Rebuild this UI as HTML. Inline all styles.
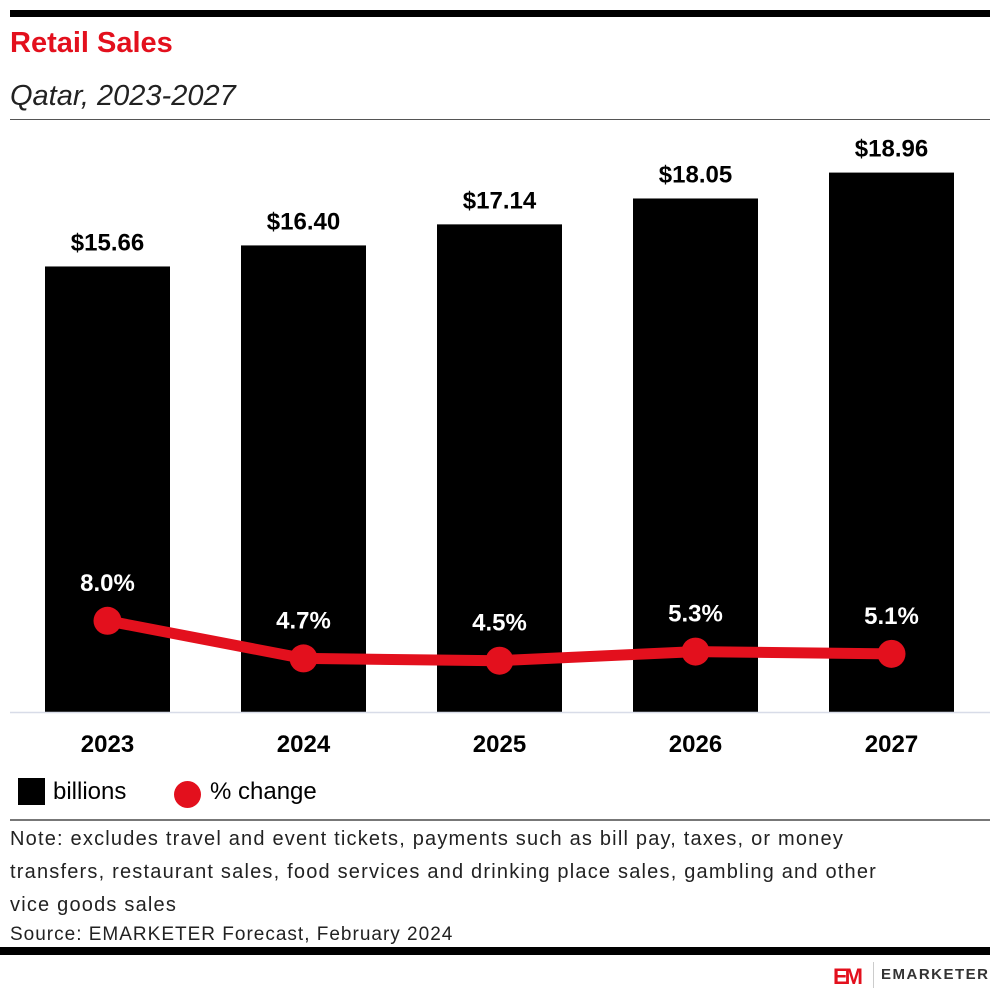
<!DOCTYPE html>
<html><head><meta charset="utf-8"><style>
body{margin:0;background:#fff;font-family:"Liberation Sans",sans-serif;}
#wrap{position:relative;width:1000px;height:997px;overflow:hidden;}
.t{position:absolute;white-space:nowrap;}
</style></head><body>
<div id="wrap">
<div style="position:absolute;left:10px;top:10px;width:980px;height:7px;background:#000"></div>
<div class="t" style="left:10px;top:27px;font-size:29px;font-weight:bold;color:#e3101d">Retail Sales</div>
<div class="t" style="left:10px;top:80px;font-size:29px;font-style:italic;color:#222">Qatar, 2023-2027</div>
<div style="position:absolute;left:10px;top:119px;width:980px;height:1px;background:#555"></div>
<svg id="chart" width="1000" height="997" style="position:absolute;left:0;top:0"></svg>
<div style="position:absolute;left:18px;top:778px;width:27px;height:27px;background:#000"></div>
<div class="t" style="left:53px;top:778px;font-size:24px;color:#000">billions</div>
<div style="position:absolute;left:174px;top:781px;width:27px;height:27px;border-radius:50%;background:#e3101d"></div>
<div class="t" style="left:210px;top:778px;font-size:24px;color:#000">% change</div>
<div style="position:absolute;left:10px;top:819px;width:980px;height:2px;background:#777"></div>
<div class="t" style="left:10px;top:823px;font-size:20px;line-height:33px;letter-spacing:1.2px;color:#222">Note: excludes travel and event tickets, payments such as bill pay, taxes, or money<br>transfers, restaurant sales, food services and drinking place sales, gambling and other<br>vice goods sales</div>
<div class="t" style="left:10px;top:924px;font-size:19px;letter-spacing:1px;color:#222">Source: EMARKETER Forecast, February 2024</div>
<div style="position:absolute;left:0;top:947px;width:990px;height:8px;background:#000"></div>
<div class="t" style="left:833px;top:964px;font-size:22px;font-weight:bold;color:#e3101d;letter-spacing:-3px">EM</div>
<div style="position:absolute;left:873px;top:962px;width:1px;height:26px;background:#ccc"></div>
<div class="t" style="left:881px;top:966px;font-size:15px;font-weight:bold;color:#333;letter-spacing:1.5px">EMARKETER</div>
</div>
<script>
const years=["2023","2024","2025","2026","2027"];
const sales=[15.66,16.40,17.14,18.05,18.96];
const salesLabels=["$15.66","$16.40","$17.14","$18.05","$18.96"];
const change=[8.0,4.7,4.5,5.3,5.1];
const changeLabels=["8.0%","4.7%","4.5%","5.3%","5.1%"];
const NS="http://www.w3.org/2000/svg";
const svg=document.getElementById('chart');
const base=712;
const xc=i=>107.5+i*196;
const yb=v=>base-v*28.45;
const yl=v=>base-v*11.4;
function mk(tag,at){const e=document.createElementNS(NS,tag);for(const k in at)e.setAttribute(k,at[k]);svg.appendChild(e);return e;}
years.forEach((y,i)=>{
 const r=mk('rect',{x:xc(i)-62.5,y:yb(sales[i]),width:125,height:base-yb(sales[i]),fill:'#000'});
 
 
 const t=mk('text',{x:xc(i),y:yb(sales[i])-16,'text-anchor':'middle','font-size':24,'font-weight':'bold','font-family':'Liberation Sans, sans-serif'});
 t.textContent=salesLabels[i];
 
 
 const xl=mk('text',{x:xc(i),y:752,'text-anchor':'middle','font-size':24,'font-weight':'bold','font-family':'Liberation Sans, sans-serif'});
 xl.textContent=y;
 
 
});
const ax=mk('line',{x1:10,x2:990,y1:base+0.5,y2:base+0.5,stroke:'#d8dce8','stroke-width':1.5});


const pl=mk('polyline',{points:change.map((v,i)=>xc(i)+','+yl(v)).join(' '),fill:'none',stroke:'#e3101d','stroke-width':11,'stroke-linejoin':'round'});


change.forEach((v,i)=>{
 const c=mk('circle',{cx:xc(i),cy:yl(v),r:14,fill:'#e3101d'});
 
 
 const t=mk('text',{x:xc(i),y:yl(v)-30,'text-anchor':'middle','font-size':24,'font-weight':'bold',fill:'#fff','font-family':'Liberation Sans, sans-serif'});
 t.textContent=changeLabels[i];
 
 
});
</script>
</body></html>
